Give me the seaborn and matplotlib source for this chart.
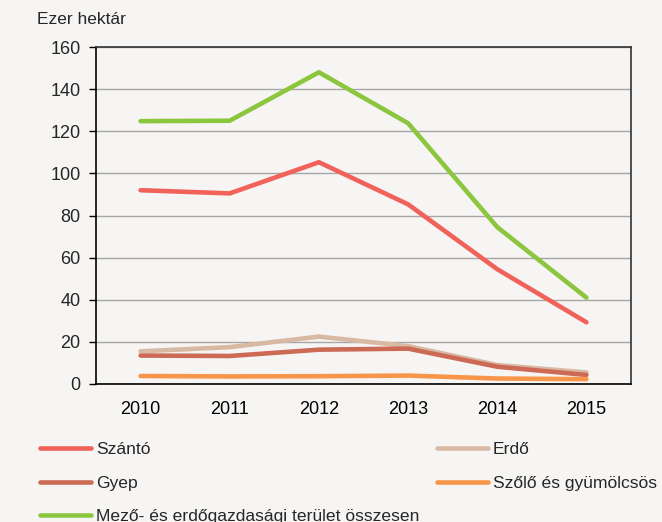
import numpy as np
import pandas as pd
import matplotlib
matplotlib.use("Agg")
import matplotlib.pyplot as plt
import seaborn as sns
from matplotlib import font_manager

# Data (ezer hektár)
years = ["2010", "2011", "2012", "2013", "2014", "2015"]
szanto = [92.0, 90.5, 105.3, 85.3, 54.5, 29.3]
erdo = [15.5, 17.5, 22.5, 18.0, 9.0, 5.5]
gyep = [13.5, 13.3, 16.3, 16.8, 8.2, 4.3]
szolo = [3.8, 3.6, 3.7, 4.0, 2.6, 2.3]
osszesen = [124.8, 125.0, 148.0, 123.8, 74.5, 41.0]

series_names = ["Szántó", "Erdő", "Gyep", "Szőlő és gyümölcsös",
                "Mező- és erdőgazdasági terület összesen"]
series_vals = [szanto, erdo, gyep, szolo, osszesen]
colors = ["#F0625A", "#D8B9A3", "#CC6A55", "#F7964A", "#8CC63F"]

rows = []
for name, vals in zip(series_names, series_vals):
    for i, v in enumerate(vals):
        rows.append({"pos": i, "year": years[i], "value": v, "series": name})
df = pd.DataFrame(rows)

sns.set_theme(style="white")
avail = {f.name for f in font_manager.fontManager.ttflist}
fam = "Liberation Sans Narrow" if "Liberation Sans Narrow" in avail else "Liberation Sans"
plt.rcParams["font.family"] = [fam, "DejaVu Sans"]

bg = "#F6F5F3"
fig = plt.figure(figsize=(6.62, 5.22), dpi=100, facecolor=bg)
ax = fig.add_axes([96 / 662, 1 - 384 / 522, 535 / 662, 337 / 522])
ax.set_facecolor(bg)

sns.lineplot(data=df, x="pos", y="value", hue="series", hue_order=series_names,
             palette=colors, linewidth=3.3, ax=ax, legend=False, sort=False,
             zorder=3)

ax.set_xlim(-0.5, 5.5)
ax.set_ylim(0, 160)
ax.set_yticks(range(0, 161, 20))
ax.yaxis.grid(True, color="#A6A6A6", linewidth=1)
ax.xaxis.grid(False)
ax.set_xticks(range(len(years)))
ax.set_xticklabels(years)
ax.set_xticks(np.arange(-0.5, 6, 1), minor=True)
ax.tick_params(axis="x", which="major", length=0, pad=12, labelsize=13, colors="black")
ax.tick_params(axis="x", which="minor", length=5, width=1, direction="out", color="black")
ax.tick_params(axis="y", length=5, width=1, direction="out", pad=6, labelsize=13,
               left=True, color="black")
ax.set_xlabel("")
ax.set_ylabel("")
for side in ["left", "bottom"]:
    ax.spines[side].set_color("black")
    ax.spines[side].set_linewidth(1.2)
for side in ["top", "right"]:
    ax.spines[side].set_color("#333333")
    ax.spines[side].set_linewidth(1.2)

fig.text(37 / 662, 1 - 20 / 522, "Ezer hektár", fontsize=12.5, va="center", ha="left")

# Legend in two columns
handles = {name: plt.Line2D([], [], color=c, linewidth=3.3, solid_capstyle="round")
           for name, c in zip(series_names, colors)}
leg_kw = dict(frameon=False, fontsize=12.6, handlelength=2.9, handletextpad=0.3,
              labelspacing=1.05, borderpad=0, borderaxespad=0, loc="upper left")
left_names = [series_names[0], series_names[2], series_names[4]]
right_names = [series_names[1], series_names[3]]
fig.legend([handles[n] for n in left_names], left_names,
           bbox_to_anchor=(40 / 662, 1 - 442 / 522), **leg_kw)
fig.legend([handles[n] for n in right_names], right_names,
           bbox_to_anchor=(437 / 662, 1 - 442 / 522), **leg_kw)

fig.savefig("out.png", dpi=100, facecolor=bg)
